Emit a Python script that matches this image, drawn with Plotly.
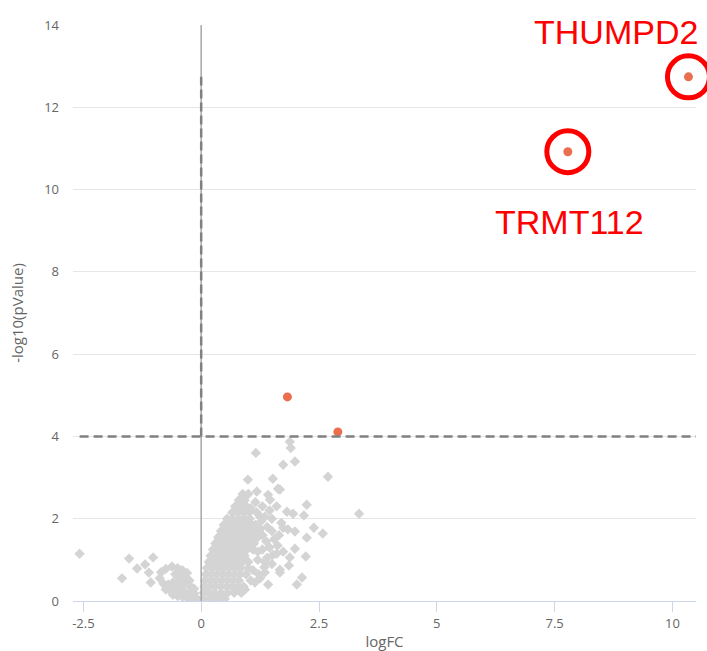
import plotly.graph_objects as go

# ---- data ----
sig_genes = ["THUMPD2", "TRMT112", "", ""]
sig_logfc = [10.34, 7.78, 1.83, 2.90]
sig_neglogp = [12.74, 10.92, 4.96, 4.11]
labelled_genes = ["THUMPD2", "TRMT112"]

nonsig_logfc = [
    # dense core
    0.05, 0.2, 0.35, 0.5,
    0.05, 0.15, 0.28, 0.42, 0.56, 0.7, 0.85,
    0.07, 0.18, 0.3, 0.42, 0.54, 0.66, 0.78, 0.9,
    0.08, 0.2, 0.32, 0.44, 0.56, 0.68, 0.8,
    0.1, 0.22, 0.34, 0.46, 0.58, 0.7, 0.82, 0.95,
    0.12, 0.24, 0.36, 0.48, 0.6, 0.72, 0.84,
    0.16, 0.28, 0.4, 0.52, 0.64, 0.76, 0.88, 1.0,
    0.2, 0.32, 0.44, 0.56, 0.68, 0.8, 0.92,
    0.25, 0.37, 0.49, 0.61, 0.73, 0.85, 0.97, 1.1,
    0.3, 0.42, 0.54, 0.66, 0.78, 0.9, 1.02,
    0.36, 0.48, 0.6, 0.72, 0.84, 0.96, 1.08, 1.2,
    0.42, 0.54, 0.66, 0.78, 0.9, 1.02, 1.14,
    0.48, 0.6, 0.72, 0.84, 0.96, 1.08,
    0.55, 0.67, 0.79, 0.91, 1.03,
    0.66, 0.78, 0.9, 1.02,
    0.72, 0.84, 0.96,
    0.8, 0.92,
    0.88,
    # fringe of the core
    1.15, 1.25, 1.3, 1.4, 1.5, 1.6, 1.55, 1.45, 1.6, 1.3, 1.2, 1.35, 1.5,
    1.1, 1.25, 1.05, 1.15, 1.3, 1.7, 1.65, 1.4, 1.05, 1.0, 1.12, 1.25, 1.35, 1.0,
    1.2, 1.38, 1.5, 1.1, 1.28, 1.45, 1.62, 1.18, 1.34, 1.52, 1.22, 1.42,
    # scattered upper/right points
    1.16, 0.99, 1.52, 1.18, 0.82, 1.42, 1.46, 1.63, 0.93, 1.14, 1.35, 1.67,
    1.88, 1.90, 1.74, 1.99, 2.69, 1.67, 2.24, 1.82, 1.95, 2.18, 3.35,
    1.74, 1.84, 1.99, 2.39, 2.58, 2.24, 1.99, 1.74, 2.22, 1.88, 1.86, 1.67,
    2.14, 2.03,
    # negative side
    -2.58, -1.53, -1.02, -1.36, -1.19, -1.11, -1.68, -1.07,
    -0.88, -0.85, -0.75, -0.62, -0.5, -0.4, -0.3, -0.55, -0.45, -0.35,
    -0.8, -0.7, -0.6, -0.5, -0.4, -0.3, -0.22, -0.75, -0.65, -0.55, -0.45,
    -0.35, -0.25, -0.15, -0.6, -0.5, -0.4, -0.3, -0.2, -0.1, -0.05, -0.15, -0.25,
]
nonsig_neglogp = [
    0.05, 0.05, 0.05, 0.05,
    0.2, 0.2, 0.2, 0.2, 0.2, 0.2, 0.2,
    0.35, 0.35, 0.35, 0.35, 0.35, 0.35, 0.35, 0.35,
    0.5, 0.5, 0.5, 0.5, 0.5, 0.5, 0.5,
    0.65, 0.65, 0.65, 0.65, 0.65, 0.65, 0.65, 0.65,
    0.8, 0.8, 0.8, 0.8, 0.8, 0.8, 0.8,
    0.95, 0.95, 0.95, 0.95, 0.95, 0.95, 0.95, 0.95,
    1.1, 1.1, 1.1, 1.1, 1.1, 1.1, 1.1,
    1.25, 1.25, 1.25, 1.25, 1.25, 1.25, 1.25, 1.25,
    1.4, 1.4, 1.4, 1.4, 1.4, 1.4, 1.4,
    1.55, 1.55, 1.55, 1.55, 1.55, 1.55, 1.55, 1.55,
    1.7, 1.7, 1.7, 1.7, 1.7, 1.7, 1.7,
    1.85, 1.85, 1.85, 1.85, 1.85, 1.85,
    2.0, 2.0, 2.0, 2.0, 2.0,
    2.15, 2.15, 2.15, 2.15,
    2.3, 2.3, 2.3,
    2.45, 2.45,
    2.6,
    1.85, 2.05, 1.6, 1.8, 2.0, 2.3, 1.5, 1.3, 1.15, 1.25, 1.0, 0.95, 0.9,
    0.75, 0.55, 2.25, 2.4, 2.3, 1.9, 1.6, 1.05, 0.5, 0.8, 1.4, 1.75, 2.05, 2.6,
    1.2, 1.45, 1.7, 1.55, 1.95, 2.2, 1.35, 2.15, 0.82, 1.12, 0.65, 0.4,
    3.60, 2.95, 2.97, 2.66, 2.46, 2.58, 2.46, 2.73, 0.28, 0.45, 0.69, 0.69,
    3.87, 3.72, 3.31, 3.39, 3.02, 2.71, 2.34, 2.17, 2.12, 2.08, 2.12,
    1.78, 1.74, 1.69, 1.78, 1.64, 1.54, 1.27, 1.20, 1.08, 1.06, 0.86, 0.76,
    0.57, 0.40,
    1.15, 1.03, 1.06, 0.79, 0.89, 0.69, 0.55, 0.45,
    0.55, 0.7, 0.78, 0.84, 0.8, 0.75, 0.68, 0.65, 0.6, 0.55,
    0.42, 0.4, 0.45, 0.45, 0.4, 0.42, 0.35, 0.28, 0.25, 0.3, 0.25,
    0.22, 0.2, 0.18, 0.15, 0.12, 0.1, 0.08, 0.06, 0.05, 0.02, 0.3, 0.5,
]

x_ticks = [-2.5, 0, 2.5, 5, 7.5, 10]
x_tick_text = ["-2.5", "0", "2.5", "5", "7.5", "10"]
y_ticks = [0, 2, 4, 6, 8, 10, 12, 14]
p_threshold = 4
fc_threshold = 0

x_range = [-2.72, 10.5]
y_range = [0, 14]

GRAY = "#d4d4d4"
ORANGE = "#eb6f4f"
TXT = "#666666"
FONT = "Open Sans"

fig = go.Figure()

fig.add_trace(go.Scatter(
    x=nonsig_logfc, y=nonsig_neglogp, mode="markers",
    marker=dict(symbol="diamond", size=8, color=GRAY, line=dict(width=0)),
    hoverinfo="skip", showlegend=False,
))
fig.add_trace(go.Scatter(
    x=sig_logfc, y=sig_neglogp, mode="markers", text=sig_genes,
    marker=dict(symbol="circle", size=9, color=ORANGE, line=dict(width=0)),
    showlegend=False,
))

# red rings around the labelled genes
ring_x = [sig_logfc[sig_genes.index(g)] for g in labelled_genes]
ring_y = [sig_neglogp[sig_genes.index(g)] for g in labelled_genes]
fig.add_trace(go.Scatter(
    x=ring_x, y=ring_y, mode="markers", cliponaxis=False,
    marker=dict(symbol="circle-open", size=42, color="red", line=dict(width=5, color="red")),
    hoverinfo="skip", showlegend=False,
))

# reference lines
fig.add_shape(type="line", xref="x", yref="y", x0=fc_threshold, x1=fc_threshold,
              y0=y_range[0], y1=y_range[1], layer="above",
              line=dict(color="#a6a6a6", width=1.5))
fig.add_shape(type="line", xref="x", yref="y", x0=fc_threshold, x1=fc_threshold,
              y0=p_threshold, y1=max(sig_neglogp), layer="above",
              line=dict(color="#808080", width=2.5, dash="9px,4px"))
fig.add_shape(type="line", xref="x", yref="y", x0=min(nonsig_logfc), x1=x_range[1],
              y0=p_threshold, y1=p_threshold, layer="above",
              line=dict(color="#808080", width=2.5, dash="9px,5px"))

# gene labels
label_shift = {"THUMPD2": (-72, 45), "TRMT112": (2, -70)}
for g in labelled_genes:
    i = sig_genes.index(g)
    dx, dy = label_shift[g]
    fig.add_annotation(x=sig_logfc[i], y=sig_neglogp[i], xref="x", yref="y",
                       text=g, showarrow=False, xshift=dx, yshift=dy,
                       font=dict(family="Liberation Sans", size=34, color="#ff0000"))

fig.update_layout(
    width=707, height=651,
    margin=dict(l=73, r=11, t=25, b=50, autoexpand=False),
    paper_bgcolor="white", plot_bgcolor="white",
    font=dict(family=FONT, color=TXT),
    showlegend=False,
)
fig.update_xaxes(
    range=x_range, tickvals=x_ticks, ticktext=x_tick_text, automargin=False,
    showgrid=False, zeroline=False,
    showline=True, linecolor="#ccd6eb", linewidth=1,
    ticks="outside", ticklen=10, tickcolor="#ccd6eb", tickwidth=1,
    tickfont=dict(family=FONT, size=13, color=TXT),
    title=dict(text="logFC", font=dict(family=FONT, size=15, color=TXT), standoff=6),
)
fig.update_yaxes(
    range=y_range, tickvals=y_ticks, automargin=False,
    showgrid=True, gridcolor="#e6e6e6", gridwidth=1,
    zeroline=False, showline=False, ticks="",
    ticklabelstandoff=13,
    tickfont=dict(family=FONT, size=13, color=TXT),
    title=dict(text="-log10(pValue)", font=dict(family=FONT, size=15, color=TXT), standoff=16),
)

fig.write_html("out.html", config={"displayModeBar": False},
               post_script="document.body.style.margin='0px';")
